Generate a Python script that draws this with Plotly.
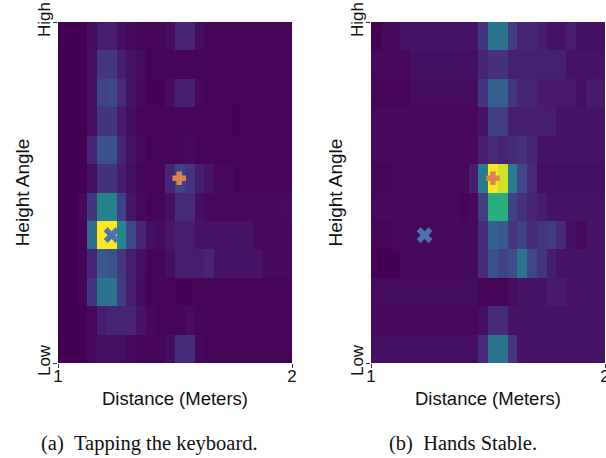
import plotly.graph_objects as go

# Heatmap intensities (normalised 0..1); 12 height-angle rows listed from top (High) to bottom (Low),
# 24 distance bins from 1 m to 2 m.
tapping_rows = [
    [0, 0, 0, .03, .08, .08, .04, .02, .01, .01, .01, .03, .10, .10, .03, .01, .01, .01, .01, .01, .01, .01, .01, .01],
    [0, 0, 0, .04, .16, .16, .08, .05, .03, .01, .01, .01, .01, .01, .01, .01, .01, .01, .01, .01, .01, .01, .01, .01],
    [0, 0, 0, .04, .20, .22, .12, .05, .02, .005, .005, .03, .08, .08, .02, .01, .01, .01, .01, .01, .01, .01, .01, .01],
    [0, 0, 0, .04, .15, .15, .07, .03, .01, .01, .01, .01, .01, .01, .01, .01, .01, .01, .005, .01, .01, .01, .01, .01],
    [0, 0, 0, .10, .25, .25, .10, .05, .02, .01, .01, .01, .01, .02, .01, .01, .01, .01, .01, .01, .01, .01, .01, .01],
    [0, 0, 0, .04, .14, .14, .08, .04, .01, .01, .01, .10, .20, .15, .08, .05, .02, .02, .01, .01, .01, .01, .01, .01],
    [0, 0, .02, .15, .45, .45, .20, .06, .02, .01, .01, .04, .12, .12, .04, .02, .02, .02, .02, .02, .02, .02, .02, .03],
    [0, 0, .01, .35, 1.0, 1.0, .46, .22, .10, .04, .03, .06, .08, .08, .05, .05, .05, .05, .05, .05, .02, .02, .02, .02],
    [0, 0, .01, .10, .28, .26, .16, .08, .04, .01, .01, .04, .08, .08, .08, .10, .05, .05, .05, .05, .05, .02, .02, .02],
    [0, 0, .01, .15, .38, .38, .18, .08, .03, .01, .01, .01, .005, .005, .01, .01, .01, .01, .01, .01, .01, .01, .01, .01],
    [0, 0, 0, .02, .08, .10, .10, .10, .05, .02, .01, .01, .01, .03, .01, .01, .01, .01, .01, .01, .01, .01, .01, .01],
    [0, 0, 0, .02, .04, .04, .04, .02, .01, .01, .01, .03, .12, .12, .02, .01, .01, .01, .01, .01, .01, .01, .01, .01],
]

stable_rows = [
    [0, .02, .02, .05, .05, .05, .05, .05, .05, .05, .05, .15, .38, .38, .18, .10, .10, .08, .05, .05, .08, .04, .04, .04],
    [.02, .02, .02, .02, .04, .04, .04, .04, .04, .04, .04, .10, .14, .14, .09, .09, .09, .09, .09, .09, .05, .05, .05, .05],
    [.01, .01, .01, .01, .03, .03, .03, .03, .03, .03, .03, .15, .30, .30, .15, .10, .10, .07, .07, .07, .07, .04, .07, .07],
    [.02, .02, .02, .02, .02, .02, .02, .02, .02, .02, .02, .05, .18, .18, .08, .08, .08, .08, .08, .05, .05, .05, .05, .05],
    [.02, .02, .02, .02, .02, .02, .02, .02, .02, .02, .02, .08, .12, .10, .12, .14, .10, .05, .05, .05, .05, .05, .05, .05],
    [.01, .01, .02, .02, .02, .02, .02, .02, .02, .02, .08, .42, 1.0, .93, .42, .22, .12, .04, .04, .04, .04, .04, .04, .04],
    [.02, .02, .02, .02, .02, .02, .02, .02, .02, .01, .02, .18, .62, .62, .20, .14, .10, .08, .05, .05, .05, .05, .05, .05],
    [.01, .01, .02, .02, .02, .02, .02, .02, .02, .02, .02, .12, .30, .28, .15, .20, .12, .15, .18, .12, .04, .02, .05, .05],
    [0, 0, 0, .02, .02, .02, .02, .02, .02, .02, .02, .12, .25, .20, .24, .38, .22, .15, .08, .05, .05, .05, .05, .05],
    [.03, .03, .03, .03, .03, .03, .03, .03, .03, .03, .03, .01, .01, .01, .03, .05, .05, .05, .07, .07, .05, .05, .05, .05],
    [.02, .02, .02, .02, .02, .02, .02, .02, .02, .02, .02, .04, .12, .12, .05, .05, .05, .05, .05, .05, .05, .05, .05, .05],
    [.04, .04, .04, .04, .04, .04, .04, .04, .04, .04, .04, .12, .38, .38, .15, .05, .05, .05, .05, .05, .05, .05, .05, .05],
]

# Estimated positions: hand (orange plus) and keyboard (blue cross)
tapping_plus = (1.518, 6.5)
tapping_x = (1.229, 4.5)
stable_plus = (1.521, 6.5)
stable_x = (1.229, 4.5)

x_ticks = [1, 2]
x_tick_labels = ["1", "2"]
y_ticks = [0, 12]
y_tick_labels = ["Low", "High"]
captions = ["(a)\u00a0\u00a0Tapping the keyboard.", "(b)\u00a0\u00a0Hands Stable."]

n_bins = 24
n_rows = 12
ORANGE = "#dd8452"
BLUE = "#4c72b0"
SANS = "Liberation Sans, Arial, sans-serif"
SERIF = "Liberation Serif, Times New Roman, serif"

fig = go.Figure()

panels = [
    (tapping_rows, tapping_plus, tapping_x, "x", "y"),
    (stable_rows, stable_plus, stable_x, "x2", "y2"),
]
for rows, plus, cross, xa, ya in panels:
    fig.add_trace(go.Heatmap(
        z=rows[::-1], x0=1 + 0.5 / n_bins, dx=1 / n_bins, y0=0.5, dy=1,
        colorscale="Viridis", zmin=0, zmax=1, showscale=False,
        xaxis=xa, yaxis=ya, hoverinfo="skip",
    ))
    fig.add_trace(go.Scatter(
        x=[cross[0]], y=[cross[1]], mode="markers", xaxis=xa, yaxis=ya,
        marker=dict(symbol="x", size=14, color=BLUE, line=dict(width=0)),
        showlegend=False,
    ))
    fig.add_trace(go.Scatter(
        x=[plus[0]], y=[plus[1]], mode="markers", xaxis=xa, yaxis=ya,
        marker=dict(symbol="cross", size=10, color=ORANGE, line=dict(width=1.5, color=ORANGE)),
        showlegend=False,
    ))

TXT = "#111"
xcommon = dict(
    range=[1, 2], tickvals=x_ticks, ticktext=x_tick_labels, ticks="outside", ticklen=4,
    tickcolor="#333", showgrid=False, zeroline=False, showline=False, automargin=False,
    ticklabeloverflow="allow", ticklabelstandoff=-6,
    tickfont=dict(family=SANS, size=17, color=TXT),
    title=dict(text="Distance (Meters)", font=dict(family=SANS, size=18.5, color=TXT), standoff=6),
)
ycommon = dict(
    range=[0, n_rows], tickvals=y_ticks, ticktext=y_tick_labels, tickangle=-90, ticks="outside",
    ticklen=4, tickcolor="#333", showgrid=False, zeroline=False, showline=False, automargin=False,
    ticklabeloverflow="allow", ticklabelstandoff=-4,
    tickfont=dict(family=SANS, size=17, color=TXT),
    title=dict(text="Height Angle", font=dict(family=SANS, size=19, color=TXT), standoff=0),
)

W, H = 606, 458
y_dom = [1 - 363 / H, 1 - 22 / H]
fig.update_layout(
    width=W, height=H, margin=dict(l=0, r=0, t=0, b=0),
    paper_bgcolor="white", plot_bgcolor="white", showlegend=False,
    xaxis=dict(domain=[58 / W, 292 / W], anchor="y", **xcommon),
    yaxis=dict(domain=y_dom, anchor="x", **ycommon),
    xaxis2=dict(domain=[371 / W, 605 / W], anchor="y2", **xcommon),
    yaxis2=dict(domain=y_dom, anchor="x2", **ycommon),
)

for text, cx in zip(captions, [149 / W, 463 / W]):
    fig.add_annotation(
        text=text, x=cx, y=1 - 443 / H, xref="paper", yref="paper",
        xanchor="center", yanchor="middle", showarrow=False,
        font=dict(family=SERIF, size=20.5, color=TXT),
    )

fig.write_html("out.html")
